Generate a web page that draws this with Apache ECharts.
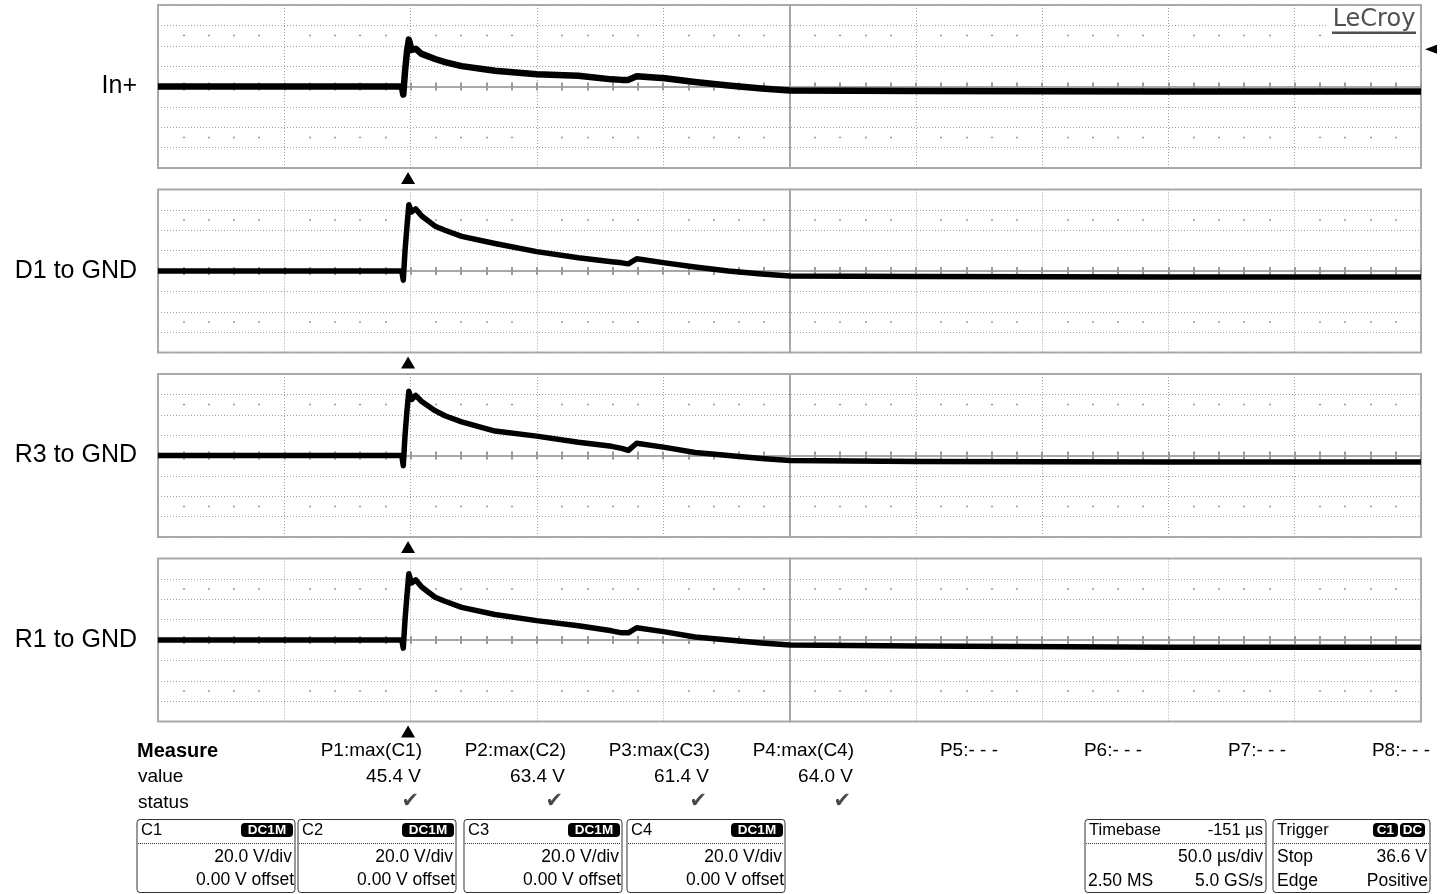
<!DOCTYPE html>
<html><head><meta charset="utf-8">
<script src="https://cdn.jsdelivr.net/npm/echarts@6/dist/echarts.min.js"></script>
<style>html,body{margin:0;padding:0;background:#fff}#c{width:1446px;height:894px}</style>
</head><body><div id="c"></div>
<script>
// ---- data (time in µs relative to screen centre, volts) ----
const timeUs = [-250, -153.5, -152.9, -152.2, -151.4, -150.7, -149.6, -148.0, -145.6, -140.3, -136.4, -129.8, -116.6, -100.1, -83.6, -70.4, -66.4, -63.8, -60.5, -49.3, -37.4, -24.2, -11.0, 0.2, 50, 150, 250];
const inPlusV = [0, 0, -8, 15, 35, 46, 36, 37, 32, 27, 24, 20, 15.5, 12, 10.5, 7, 6.5, 6.5, 10, 8, 4.5, 1, -2, -4, -4.5, -5, -5];
const d1V     = [0, 0, -9, 20, 45, 65, 58, 61, 54, 44, 40, 34, 27, 19, 13, 9, 8, 7, 12, 8, 4, 0, -3, -5, -5.5, -6, -6];
const r3V     = [0, 0, -10, 20, 45, 63, 55, 59, 53, 44, 39, 33, 24, 19, 13, 9, 7, 5, 12, 8, 3, 0, -3, -5, -6, -6.5, -6.5];
const r1V     = [0, 0, -8, 20, 45, 65, 56, 59, 52, 42, 38, 32, 25, 19, 14, 9, 7, 7, 12, 8, 3, 0, -3, -5, -6, -7, -7];
const channelNames = ['In+', 'D1 to GND', 'R3 to GND', 'R1 to GND'];
const triggerTimeUs = -151;
const triggerLevelV = 36.6;
const timeRange = [-250, 250], timeDiv = 50;
const voltRange = [-80, 80], voltDiv = 20;

const measureNames  = ['P1:max(C1)', 'P2:max(C2)', 'P3:max(C3)', 'P4:max(C4)', 'P5:- - -', 'P6:- - -', 'P7:- - -', 'P8:- - -'];
const measureValues = ['45.4 V', '63.4 V', '61.4 V', '64.0 V', '', '', '', ''];
const measureOk     = [true, true, true, true, false, false, false, false];
const chanIds     = ['C1', 'C2', 'C3', 'C4'];
const chanCoupling = ['DC1M', 'DC1M', 'DC1M', 'DC1M'];
const chanScale   = ['20.0 V/div', '20.0 V/div', '20.0 V/div', '20.0 V/div'];
const chanOffset  = ['0.00 V offset', '0.00 V offset', '0.00 V offset', '0.00 V offset'];
const timebaseInfo = {title: 'Timebase', delay: '-151 µs', scale: '50.0 µs/div', points: '2.50 MS', rate: '5.0 GS/s'};
const triggerInfo  = {title: 'Trigger', src: 'C1', coupling: 'DC', mode: 'Stop', level: '36.6 V', type: 'Edge', slope: 'Positive'};

// ---- layout ----
const tops = [5, 189.5, 374, 558.5];
const GL = 158, GW = 1263, GH = 163;
const traces = [inPlusV, d1V, r3V, r1V];
const traceWidths = [6.5, 5.5, 5.5, 5.5];
const dotted = {color: '#a0a0a0', width: 1, type: [1, 2]};
const tickStyle = {color: '#9a9a9a', width: 2};
const dotSpacing = GH * 100 / 160, dotFirst = GH * 30 / 160;

const grids = [], xAxes = [], yAxes = [], series = [];
tops.forEach((t, i) => {
  grids.push({left: GL, top: t, width: GW, height: GH, show: true, borderColor: '#ababab', borderWidth: 2, backgroundColor: 'transparent'});
  xAxes.push({gridIndex: i, type: 'value', min: timeRange[0], max: timeRange[1], interval: timeDiv, position: 'bottom',
    axisLine: {show: true, onZero: true, onZeroAxisIndex: 2 * i, lineStyle: {color: '#a8a8a8', width: 2}},
    axisTick: {show: true, inside: true, length: 4, lineStyle: tickStyle},
    minorTick: {show: true, splitNumber: 5, length: 4, lineStyle: tickStyle},
    axisLabel: {show: false}, splitLine: {show: true, lineStyle: dotted}});
  xAxes.push({gridIndex: i, type: 'value', min: timeRange[0], max: timeRange[1], interval: timeDiv, position: 'bottom',
    axisLine: {show: true, onZero: true, onZeroAxisIndex: 2 * i, lineStyle: {color: '#a8a8a8', width: 2}},
    axisTick: {show: true, inside: false, length: 4, lineStyle: tickStyle},
    minorTick: {show: true, splitNumber: 5, length: 4, lineStyle: tickStyle},
    axisLabel: {show: false}, splitLine: {show: false},
    minorSplitLine: {show: true, lineStyle: {color: '#9a9a9a', width: 2, type: [1.5, dotSpacing - 1.5], dashOffset: dotSpacing - dotFirst + 0.75}}});
  yAxes.push({gridIndex: i, type: 'value', min: voltRange[0], max: voltRange[1], interval: voltDiv, position: 'left',
    name: channelNames[i], nameLocation: 'middle', nameRotate: 0, nameGap: 21,
    nameTextStyle: {fontFamily: 'Liberation Sans', fontSize: 25, color: '#000', align: 'right', verticalAlign: 'middle'},
    axisLine: {show: false, onZero: false}, axisTick: {show: false}, axisLabel: {show: false},
    splitLine: {show: true, lineStyle: dotted}});
  yAxes.push({gridIndex: i, type: 'value', min: voltRange[0], max: voltRange[1], interval: voltDiv, position: 'right',
    axisLine: {show: true, onZero: true, onZeroAxisIndex: 2 * i, lineStyle: {color: '#a8a8a8', width: 2}},
    axisTick: {show: false}, axisLabel: {show: false}, splitLine: {show: false}});
  const mp = [{coord: [triggerTimeUs, voltRange[0]], symbol: 'triangle', symbolSize: [14, 12], symbolOffset: [0, 10]}];
  if (i === 0) mp.push({coord: [timeRange[1], triggerLevelV], symbol: 'triangle', symbolRotate: 90, symbolSize: [9, 12], symbolOffset: [10, 0]});
  series.push({type: 'line', name: channelNames[i], xAxisIndex: 2 * i, yAxisIndex: 2 * i, symbol: 'none', silent: true, z: 10,
    data: timeUs.map((tm, k) => [tm, traces[i][k]]),
    lineStyle: {color: '#000', width: traceWidths[i], join: 'round'},
    markPoint: {symbol: 'triangle', symbolSize: [14, 12], itemStyle: {color: '#000'}, label: {show: false}, silent: true, data: mp}});
});

// ---- text panel below ----
const F = '"Liberation Sans", Arial, sans-serif';
function T(x, y, text, o) {
  return {type: 'text', silent: true, z: 100, style: Object.assign({x: x, y: y, text: text, fill: '#000', font: '19px ' + F, textAlign: 'left', textVerticalAlign: 'middle'}, o || {})};
}
function R(x, y, w, h, o) { return {type: 'rect', silent: true, z: 99, shape: Object.assign({x: x, y: y, width: w, height: h}, o && o.shape || {}), style: Object.assign({fill: 'none', stroke: '#333', lineWidth: 1}, o && o.style || {})}; }
function badge(x, y, w, text) {
  return [R(x, y, w, 14, {shape: {r: 4}, style: {fill: '#000', stroke: 'none'}}),
          T(x + w / 2, y + 7, text, {fill: '#fff', font: 'bold 13.5px ' + F, textAlign: 'center'})];
}
function sep(x1, x2, y) { return {type: 'line', silent: true, z: 99, shape: {x1: x1, y1: y, x2: x2, y2: y}, style: {stroke: '#333', lineWidth: 1, lineDash: [1, 1]}}; }

const g = [];
g.push(T(137, 751, 'Measure', {font: 'bold 20px ' + F}));
g.push(T(138, 777, 'value'));
g.push(T(138, 803, 'status'));
measureNames.forEach((m, i) => {
  const xr = 422 + 144 * i;
  g.push(T(xr, 751, m, {textAlign: 'right'}));
  if (measureValues[i]) g.push(T(xr - 1, 777, measureValues[i], {textAlign: 'right'}));
  if (measureOk[i]) g.push(T(xr - 3, 802, '✔', {textAlign: 'right', fill: '#4a4a4a', font: '21px "DejaVu Sans"'}));
});
const boxL = [137, 298, 464, 627], boxW = 158;
const bodyFont = '17.5px ' + F, headFont = '16.5px ' + F;
chanIds.forEach((c, i) => {
  const x = boxL[i], r = x + boxW;
  g.push(R(x, 819.5, boxW, 73, {shape: {r: 3}}));
  g.push(T(x + 4, 830, c, {font: headFont}));
  g.push(...badge(r - 54, 823, 52, chanCoupling[i]));
  g.push(sep(x + 1, r - 1, 843.5));
  g.push(T(r - 3, 857, chanScale[i], {textAlign: 'right', font: bodyFont}));
  g.push(T(r - 1, 880, chanOffset[i], {textAlign: 'right', font: bodyFont}));
});
// timebase box
g.push(R(1085, 819.5, 181, 73, {shape: {r: 3}}));
g.push(T(1089, 830, timebaseInfo.title, {font: headFont}));
g.push(T(1263, 830, timebaseInfo.delay, {textAlign: 'right', font: headFont}));
g.push(sep(1086, 1265, 843.5));
g.push(T(1263, 857, timebaseInfo.scale, {textAlign: 'right', font: bodyFont}));
g.push(T(1088, 881, timebaseInfo.points, {font: bodyFont}));
g.push(T(1263, 881, timebaseInfo.rate, {textAlign: 'right', font: bodyFont}));
// trigger box
g.push(R(1273, 819.5, 157, 73, {shape: {r: 3}}));
g.push(T(1277, 830, triggerInfo.title, {font: headFont}));
g.push(...badge(1373, 823, 25, triggerInfo.src));
g.push(...badge(1400, 823, 25, triggerInfo.coupling));
g.push(sep(1274, 1429, 843.5));
g.push(T(1277, 857, triggerInfo.mode, {font: bodyFont}));
g.push(T(1427, 857, triggerInfo.level, {textAlign: 'right', font: bodyFont}));
g.push(T(1277, 881, triggerInfo.type, {font: bodyFont}));
g.push(T(1428, 881, triggerInfo.slope, {textAlign: 'right', font: bodyFont}));
// LeCroy logo
g.push({type: 'rect', silent: true, z: 50, shape: {x: 1327, y: 8, width: 93, height: 32}, style: {fill: '#fff'}});
g.push(T(1374, 20, 'LeCroy', {textAlign: 'center', fill: '#505050', font: '24px "DejaVu Sans"'}));
g.push({type: 'rect', silent: true, z: 100, shape: {x: 1332, y: 31.5, width: 84, height: 2.5}, style: {fill: '#505050'}});

const chart = echarts.init(document.getElementById('c'));
chart.setOption({
  animation: false,
  backgroundColor: '#fff',
  grid: grids, xAxis: xAxes, yAxis: yAxes, series: series,
  graphic: g
});
</script></body></html>
